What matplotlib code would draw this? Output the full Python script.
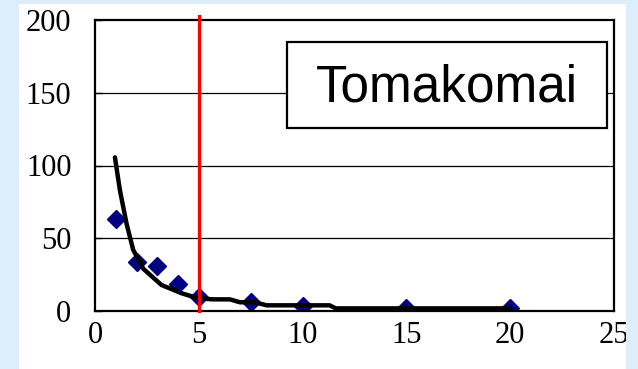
import matplotlib.pyplot as plt
from matplotlib.patches import Rectangle

# observed points
obs_x = [1, 2, 3, 4, 5, 7.5, 10, 15, 20]
obs_y = [63, 34, 30.7, 18.3, 9.4, 6.4, 3.7, 1.8, 1.8]

# fitted curve
fit_x = [0.96, 1.2, 1.52, 1.84, 2.33, 3.2, 4.17, 4.98, 5.7, 6.5, 6.98, 7.7, 8.27, 11.3, 11.6, 20]
fit_y = [105.6, 83, 60, 42, 29, 17.9, 12.2, 8.7, 8, 8, 6, 6, 3.9, 3.9, 1.8, 1.8]

threshold = 5
station = "Tomakomai"

xticks = [0, 5, 10, 15, 20, 25]
yticks = [0, 50, 100, 150, 200]

bg = "#ddeefa"
W, H = 638, 369

fig = plt.figure(figsize=(W / 100, H / 100), dpi=100, facecolor=bg)
# white slide panel
fig.patches.append(Rectangle((19 / W, 0), (626 - 19) / W, (H - 4) / H,
                             transform=fig.transFigure, facecolor="white",
                             edgecolor="none", zorder=-1))

ax = fig.add_axes([95 / W, (H - 311) / H, 519 / W, 291 / H])
ax.set_xlim(0, 25)
ax.set_ylim(0, 200)

for y in yticks[1:-1]:
    ax.axhline(y, color="black", lw=0.9, zorder=1)

ax.plot(fit_x, fit_y, color="black", lw=3.2, solid_joinstyle="round",
        solid_capstyle="round", zorder=3)
ax.plot(obs_x, obs_y, linestyle="none", marker="D", ms=9, color="#000080",
        zorder=2)
ax.axvline(threshold, ymin=0, ymax=(311 - 16) / 291, color="#ff0000", lw=2.3,
           clip_on=False, zorder=4)

ax.set_xticks(xticks)
ax.set_yticks(yticks)
ax.tick_params(axis="x", length=0, pad=7)
ax.tick_params(axis="y", direction="in", length=5, width=1, pad=17)
for lab in ax.get_xticklabels() + ax.get_yticklabels():
    lab.set_fontfamily("Liberation Serif")
    lab.set_fontsize(22)

for s in ax.spines.values():
    s.set_linewidth(1.6)

ax.add_patch(Rectangle((0.37, 0.629), 0.617, 0.295, transform=ax.transAxes,
                       facecolor="white", edgecolor="black", lw=1.6, zorder=5))
ax.text(0.678, 0.765, station, transform=ax.transAxes, ha="center",
        va="center", fontsize=37, fontfamily="Liberation Sans", zorder=6)

# right margin strip
fig.add_artist(Rectangle((626 / W, 0), 1 - 626 / W, 1, transform=fig.transFigure,
                         facecolor=bg, edgecolor="none", zorder=10))

fig.savefig("out.png", dpi=100, facecolor=bg)
